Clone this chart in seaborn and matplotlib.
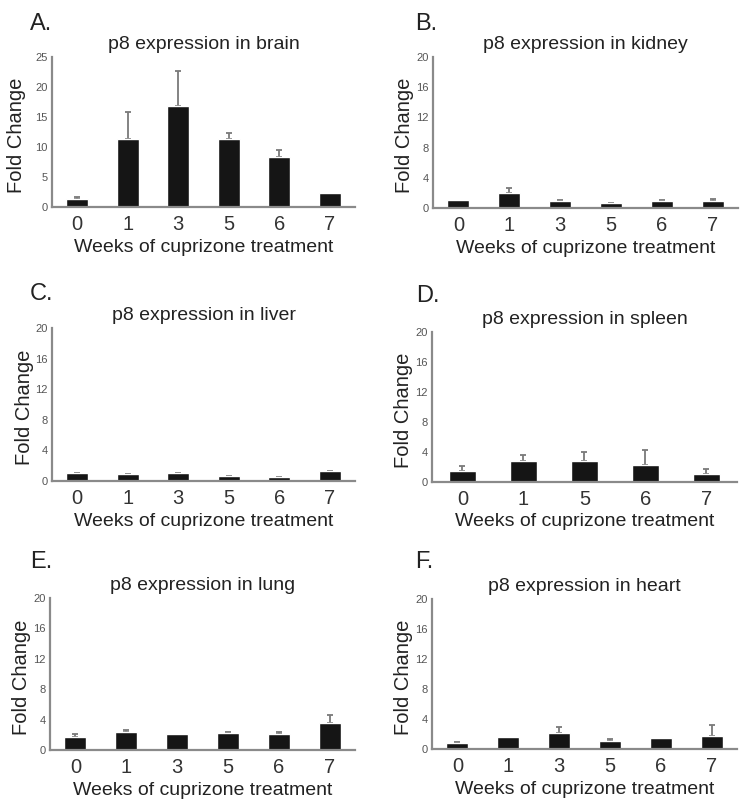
import matplotlib
matplotlib.use("Agg")
import matplotlib.pyplot as plt
import seaborn as sns
import pandas as pd

# ---- data ----
weeks_brain = ["0", "1", "3", "5", "6", "7"]
fold_brain = [1.4, 11.3, 16.9, 11.4, 8.3, 2.4]
errtop_brain = [1.7, 15.9, 22.6, 12.4, 9.5, 2.4]

weeks_kidney = ["0", "1", "3", "5", "6", "7"]
fold_kidney = [1.05, 2.0, 0.97, 0.66, 0.97, 0.93]
errtop_kidney = [1.05, 2.65, 1.05, 0.7, 1.0, 1.2]

weeks_liver = ["0", "1", "3", "5", "6", "7"]
fold_liver = [1.05, 0.9, 1.0, 0.65, 0.5, 1.25]
errtop_liver = [1.1, 0.95, 1.05, 0.7, 0.55, 1.3]

weeks_spleen = ["0", "1", "5", "6", "7"]
fold_spleen = [1.45, 2.75, 2.75, 2.2, 1.1]
errtop_spleen = [2.1, 3.6, 4.0, 4.2, 1.7]

weeks_lung = ["0", "1", "3", "5", "6", "7"]
fold_lung = [1.7, 2.4, 2.05, 2.3, 2.05, 3.55]
errtop_lung = [2.15, 2.6, 2.05, 2.4, 2.4, 4.6]

weeks_heart = ["0", "1", "3", "5", "6", "7"]
fold_heart = [0.8, 1.6, 2.2, 1.05, 1.45, 1.8]
errtop_heart = [1.0, 1.6, 2.9, 1.4, 1.45, 3.15]

panels = [
    ("A.", "p8 expression in brain", weeks_brain, fold_brain, errtop_brain, [0, 5, 10, 15, 20, 25]),
    ("B.", "p8 expression in kidney", weeks_kidney, fold_kidney, errtop_kidney, [0, 4, 8, 12, 16, 20]),
    ("C.", "p8 expression in liver", weeks_liver, fold_liver, errtop_liver, [0, 4, 8, 12, 16, 20]),
    ("D.", "p8 expression in spleen", weeks_spleen, fold_spleen, errtop_spleen, [0, 4, 8, 12, 16, 20]),
    ("E.", "p8 expression in lung", weeks_lung, fold_lung, errtop_lung, [0, 4, 8, 12, 16, 20]),
    ("F.", "p8 expression in heart", weeks_heart, fold_heart, errtop_heart, [0, 4, 8, 12, 16, 20]),
]

# axes boxes in pixels: left, right, top, bottom (zero line)
W, H = 750, 809
boxes = [
    (52, 355, 57, 207),
    (433, 738, 57, 208),
    (52, 355, 328, 481),
    (432, 737, 332, 482),
    (50, 355, 598, 750),
    (432, 737, 599, 749),
]
letter_pos = [(30, 13), (415, 13), (30, 283), (416, 285), (30, 551), (415, 551)]

sns.set_style("white")
plt.rcParams["font.family"] = ["Liberation Sans", "DejaVu Sans"]

fig = plt.figure(figsize=(W / 100, H / 100), dpi=100)
spine_col = "#8a8a8a"

for (letter, title, weeks, fold, errtop, yt), (l, r, t, b), (lx, ly) in zip(panels, boxes, letter_pos):
    ax = fig.add_axes([l / W, 1 - b / H, (r - l) / W, (b - t) / H])
    df = pd.DataFrame({"week": weeks, "fold": fold})
    sns.barplot(data=df, x="week", y="fold", order=weeks, color="#151515",
                width=0.43, errorbar=None, saturation=1, ax=ax, zorder=2)
    xs, ys, ups = [], [], []
    for i, (e, v) in enumerate(zip(errtop, fold)):
        if e - v > 0.02:
            xs.append(i)
            ys.append(v)
            ups.append(e - v)
    if xs:
        ax.errorbar(xs, ys, yerr=[[0] * len(ys), ups], fmt="none",
                    ecolor="#7a7a7a", elinewidth=1.3, capsize=2.5, capthick=1.3, zorder=1)
    ax.set_xlim(-0.5, len(weeks) - 0.5)
    ax.set_ylim(0, yt[-1])
    ax.set_yticks(yt)
    ax.set_yticklabels([str(v) for v in yt], fontsize=8, color="#555555")
    ax.tick_params(axis="x", labelsize=14.5, length=0, pad=6, colors="#333333")
    ax.tick_params(axis="y", length=0, pad=3)
    for s in ["top", "right"]:
        ax.spines[s].set_visible(False)
    for s in ["left", "bottom"]:
        ax.spines[s].set_color(spine_col)
        ax.spines[s].set_linewidth(1.6)
    ax.set_title(title, fontsize=14, pad=6, color="#222222")
    ax.set_xlabel("Weeks of cuprizone treatment", fontsize=14, color="#222222")
    ax.set_ylabel("Fold Change", fontsize=14.5, color="#222222")
    ax.xaxis.set_label_coords(0.5, -0.21)
    ax.xaxis.label.set_verticalalignment("top")
    ax.yaxis.set_label_coords(-0.092 if letter != "A." else -0.118, 0.48)
    ax.yaxis.label.set_verticalalignment("center")
    fig.text(lx / W, 1 - ly / H, letter, fontsize=17, va="top", ha="left", color="#222222")

fig.savefig("out.png", dpi=100)
